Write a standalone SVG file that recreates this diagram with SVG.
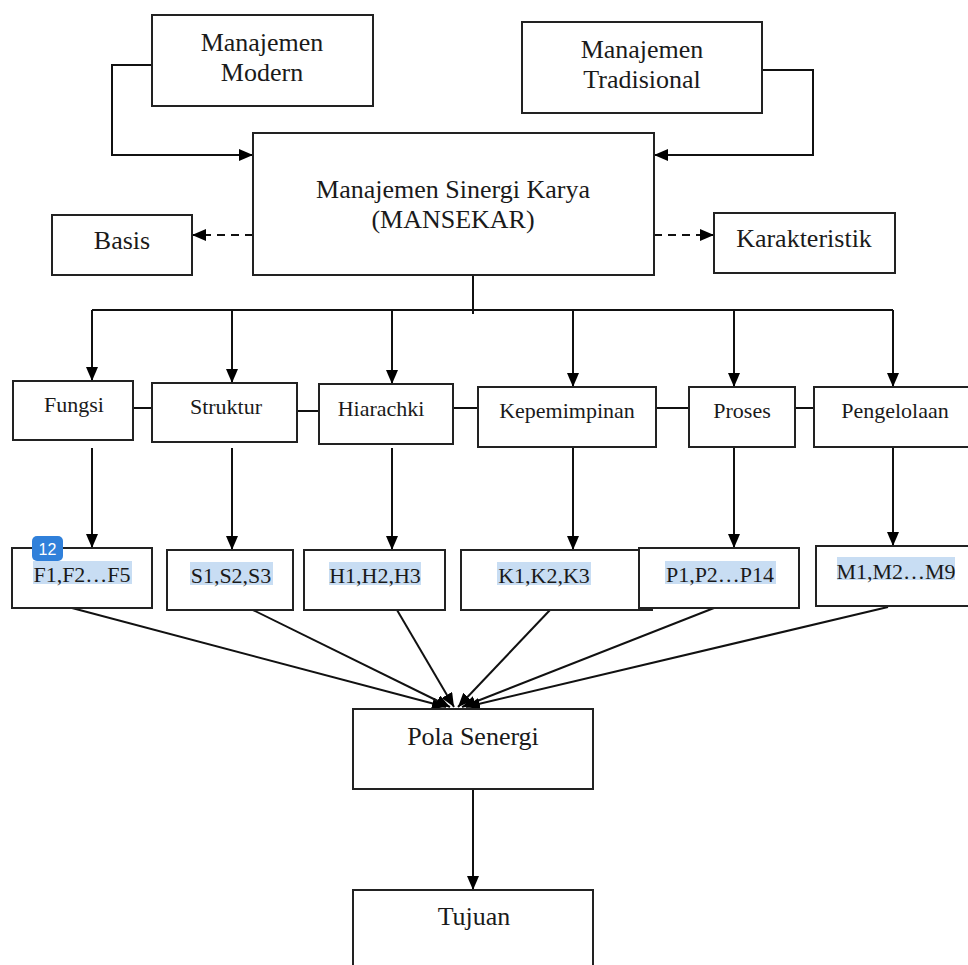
<svg xmlns="http://www.w3.org/2000/svg" width="968" height="965" viewBox="0 0 968 965">
<style>
rect.n{fill:#fff;stroke:#222;stroke-width:2}
text{font-family:"Liberation Serif","Times New Roman",serif;fill:#1a1a1a;text-anchor:middle}
.big{font-size:26px}
.mid{font-size:22px}
.code{font-size:22px}
.c line,.c path{stroke:#111;stroke-width:2;fill:none}
.hl{fill:#c8ddf3}
</style>
<defs>
<marker id="ah" viewBox="0 0 14 12" refX="14" refY="6" markerWidth="14" markerHeight="12" markerUnits="userSpaceOnUse" orient="auto">
<path d="M0,0 L14,6 L0,12 Z" fill="#000"/>
</marker>
</defs>
<rect width="968" height="965" fill="#fff"/>
<g class="c">
<path d="M152,65 H112 V155 H253" marker-end="url(#ah)"/>
<path d="M762,70 H813 V155 H654" marker-end="url(#ah)"/>
<line x1="253" y1="235" x2="192" y2="235" stroke-dasharray="8,6" marker-end="url(#ah)"/>
<line x1="654" y1="235" x2="714" y2="235" stroke-dasharray="8,6" marker-end="url(#ah)"/>
<line x1="473" y1="275" x2="473" y2="314"/>
<line x1="92" y1="310" x2="893" y2="310"/>
<line x1="92" y1="310" x2="92" y2="381" marker-end="url(#ah)"/>
<line x1="232" y1="310" x2="232" y2="383" marker-end="url(#ah)"/>
<line x1="392" y1="310" x2="392" y2="384" marker-end="url(#ah)"/>
<line x1="573" y1="310" x2="573" y2="387" marker-end="url(#ah)"/>
<line x1="734" y1="310" x2="734" y2="387" marker-end="url(#ah)"/>
<line x1="893" y1="310" x2="893" y2="387" marker-end="url(#ah)"/>
<line x1="133" y1="408" x2="152" y2="408"/>
<line x1="297" y1="411" x2="319" y2="411"/>
<line x1="453" y1="408" x2="478" y2="408"/>
<line x1="656" y1="408" x2="694" y2="408"/>
<line x1="795" y1="408" x2="814" y2="408"/>
<line x1="92" y1="448" x2="92" y2="548" marker-end="url(#ah)"/>
<line x1="232" y1="448" x2="232" y2="550" marker-end="url(#ah)"/>
<line x1="392" y1="448" x2="392" y2="550" marker-end="url(#ah)"/>
<line x1="573" y1="448" x2="573" y2="550" marker-end="url(#ah)"/>
<line x1="734" y1="448" x2="734" y2="548" marker-end="url(#ah)"/>
<line x1="893" y1="448" x2="893" y2="546" marker-end="url(#ah)"/>
<line x1="72" y1="608" x2="446" y2="707" marker-end="url(#ah)"/>
<line x1="253" y1="610" x2="450" y2="707" marker-end="url(#ah)"/>
<line x1="397" y1="610" x2="454" y2="707" marker-end="url(#ah)"/>
<line x1="550" y1="610" x2="458" y2="707" marker-end="url(#ah)"/>
<line x1="714" y1="608" x2="462" y2="707" marker-end="url(#ah)"/>
<line x1="888" y1="607" x2="466" y2="707" marker-end="url(#ah)"/>
<line x1="473" y1="789" x2="473" y2="890" marker-end="url(#ah)"/>
</g>
<g id="n-modern"><rect class="n" x="152" y="15" width="221" height="91"/><text class="big" x="262" y="51">Manajemen</text><text class="big" x="262" y="81">Modern</text></g>
<g id="n-tradisional"><rect class="n" x="522" y="22" width="240" height="91"/><text class="big" x="642" y="58">Manajemen</text><text class="big" x="642" y="88">Tradisional</text></g>
<g id="n-mansekar"><rect class="n" x="253" y="133" width="401" height="142"/><text class="big" x="453" y="198">Manajemen Sinergi Karya</text><text class="big" x="453" y="228">(MANSEKAR)</text></g>
<g id="n-basis"><rect class="n" x="52" y="215" width="140" height="60"/><text class="big" x="122" y="249">Basis</text></g>
<g id="n-karakteristik"><rect class="n" x="714" y="213" width="181" height="60"/><text class="big" x="804" y="247">Karakteristik</text></g>
<g id="n-fungsi"><rect class="n" x="13" y="381" width="120" height="59"/><text class="mid" x="74" y="412">Fungsi</text></g>
<g id="n-struktur"><rect class="n" x="152" y="383" width="145" height="59"/><text class="mid" x="226" y="414">Struktur</text></g>
<g id="n-hiarachki"><rect class="n" x="319" y="384" width="134" height="60"/><text class="mid" x="381" y="416">Hiarachki</text></g>
<g id="n-kepemimpinan"><rect class="n" x="478" y="387" width="178" height="60"/><text class="mid" x="567" y="418">Kepemimpinan</text></g>
<g id="n-proses"><rect class="n" x="689" y="387" width="106" height="60"/><text class="mid" x="742" y="418">Proses</text></g>
<g id="n-pengelolaan"><rect class="n" x="814" y="387" width="160" height="60"/><text class="mid" x="895" y="418">Pengelolaan</text></g>
<g id="n-f"><rect class="n" x="12" y="548" width="140" height="60"/><rect class="hl" x="33" y="561" width="99" height="23"/><text class="code" x="82" y="582">F1,F2…F5</text></g>
<g id="n-s"><rect class="n" x="167" y="550" width="126" height="60"/><rect class="hl" x="190" y="562" width="83" height="23"/><text class="code" x="231" y="583">S1,S2,S3</text></g>
<g id="n-h"><rect class="n" x="304" y="550" width="141" height="60"/><rect class="hl" x="329" y="562" width="92" height="23"/><text class="code" x="375" y="583">H1,H2,H3</text></g>
<g id="n-k"><rect class="n" x="461" y="550" width="191" height="60"/><rect class="hl" x="497" y="562" width="94" height="23"/><text class="code" x="544" y="583">K1,K2,K3</text></g>
<g id="n-p"><rect class="n" x="639" y="548" width="160" height="60"/><rect class="hl" x="665" y="561" width="111" height="23"/><text class="code" x="720" y="582">P1,P2…P14</text></g>
<g id="n-m"><rect class="n" x="816" y="546" width="160" height="60"/><rect class="hl" x="837" y="557" width="118" height="23"/><text class="code" x="896" y="579">M1,M2…M9</text></g>
<g id="badge"><rect x="32" y="536" width="31" height="25" rx="5" fill="#3080da"/><text x="47.5" y="555" style="font-family:'Liberation Sans',Arial,sans-serif;font-size:16px;fill:#fff">12</text></g>
<g id="n-pola"><rect class="n" x="353" y="709" width="240" height="80"/><text class="big" x="473" y="745">Pola Senergi</text></g>
<g id="n-tujuan"><rect class="n" x="353" y="890" width="240" height="90"/><text class="big" x="474" y="925">Tujuan</text></g>
</svg>
